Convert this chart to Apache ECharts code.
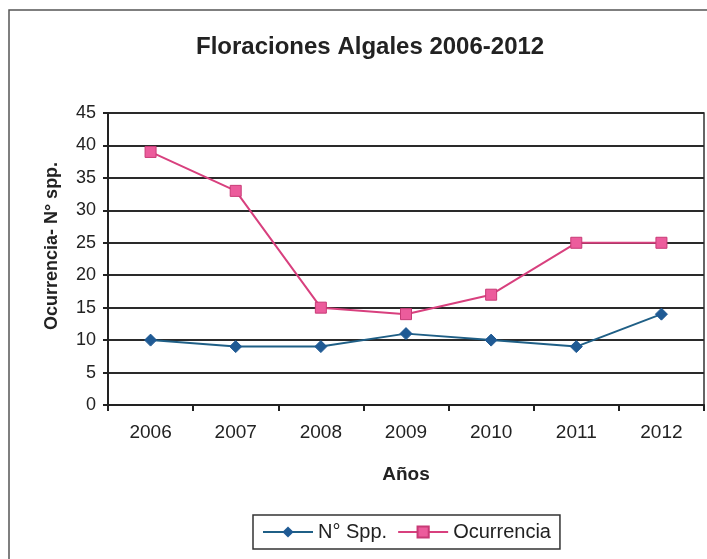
<!DOCTYPE html>
<html>
<head>
<meta charset="utf-8">
<script src="https://cdn.jsdelivr.net/npm/echarts@6/dist/echarts.min.js"></script>
<style>
  html, body { margin: 0; padding: 0; background: #fff; }
  #chart { width: 707px; height: 559px; }
</style>
</head>
<body>
<div id="chart"></div>
<script>
var years = ['2006', '2007', '2008', '2009', '2010', '2011', '2012'];
var nSpp = [10, 9, 9, 11, 10, 9, 14];
var ocurrencia = [39, 33, 15, 14, 17, 25, 25];

var chart = echarts.init(document.getElementById('chart'));
chart.setOption({
  animation: false,
  backgroundColor: '#fff',
  graphic: [{
    type: 'rect',
    shape: { x: 9, y: 10, width: 720, height: 560 },
    style: { fill: 'none', stroke: '#555', lineWidth: 1.5 }
  }],
  title: {
    text: 'Floraciones Algales 2006-2012',
    left: 196,
    top: 35,
    padding: 0,
    textStyle: { color: '#222', fontSize: 24, fontWeight: 'bold', fontFamily: 'Liberation Sans' }
  },
  legend: {
    top: 515,
    left: 253,
    itemWidth: 50,
    itemHeight: 14,
    itemGap: 10,
    padding: [7, 9],
    borderColor: '#333',
    borderWidth: 1.5,
    textStyle: { color: '#222', fontSize: 20, fontFamily: 'Liberation Sans' },
    data: ['N° Spp.', 'Ocurrencia']
  },
  grid: {
    left: 108, right: 3, top: 113, bottom: 154,
    show: true, borderColor: '#333', borderWidth: 1.5
  },
  xAxis: {
    type: 'category',
    data: years,
    name: 'Años',
    nameLocation: 'middle',
    nameGap: 60,
    nameTextStyle: { color: '#222', fontSize: 19, fontWeight: 'bold', fontFamily: 'Liberation Sans' },
    axisLine: { lineStyle: { color: '#222', width: 2 } },
    axisTick: { show: true, length: 6, lineStyle: { color: '#222', width: 2 } },
    axisLabel: { color: '#222', fontSize: 19, margin: 18, fontFamily: 'Liberation Sans' }
  },
  yAxis: {
    type: 'value',
    min: 0,
    max: 45,
    interval: 5,
    name: 'Ocurrencia- N° spp.',
    nameLocation: 'middle',
    nameGap: 47,
    nameTextStyle: {
      color: '#222', fontSize: 18, fontWeight: 'bold', fontFamily: 'Liberation Sans',
      padding: [0, 0, 0, 26]
    },
    axisLine: { show: true, lineStyle: { color: '#222', width: 2 } },
    axisTick: { show: true, length: 5, lineStyle: { color: '#222', width: 2 } },
    axisLabel: { color: '#222', fontSize: 18, margin: 12, fontFamily: 'Liberation Sans' },
    splitLine: { show: true, lineStyle: { color: '#2a2a2a', width: 2 } }
  },
  series: [
    {
      name: 'N° Spp.',
      type: 'line',
      data: nSpp,
      symbol: 'diamond',
      symbolSize: 12,
      lineStyle: { color: '#1f5f86', width: 2 },
      itemStyle: { color: '#1f5a94', borderColor: '#1f5a94' }
    },
    {
      name: 'Ocurrencia',
      type: 'line',
      data: ocurrencia,
      symbol: 'rect',
      symbolSize: 11,
      lineStyle: { color: '#d8407e', width: 2 },
      itemStyle: { color: '#ec5c9c', borderColor: '#c83a76', borderWidth: 1 }
    }
  ]
});
</script>
</body>
</html>
